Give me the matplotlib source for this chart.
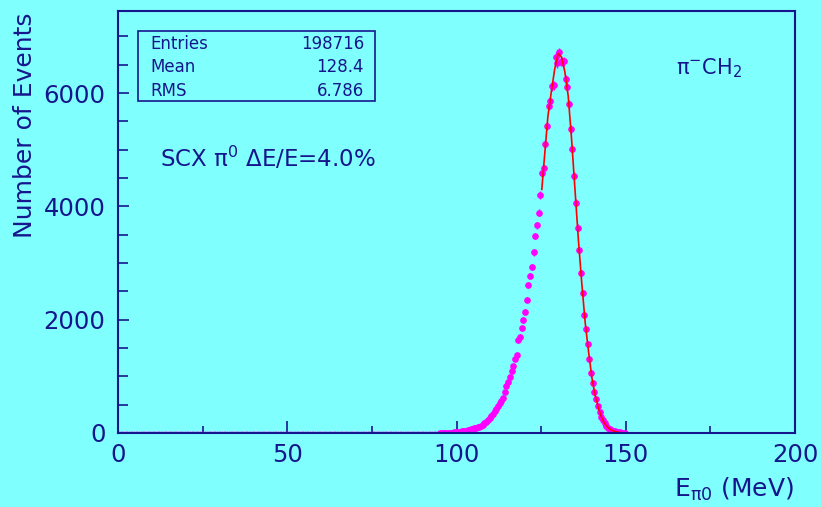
# Reconstructed E_pi0 spectrum for SCX pi- on CH2, drawn like the original ROOT canvas

import numpy as np
import matplotlib.pyplot as plt
from matplotlib.patches import Rectangle
from matplotlib.ticker import MultipleLocator

plt.rcParams['font.family'] = ['DejaVu Sans']
plt.rcParams['mathtext.fontset'] = 'dejavusans'
plt.rcParams['mathtext.default'] = 'regular'

BG = '#80ffff'
INK = '#16168c'

# histogram: 0.5 MeV bins, first filled bin centred at 95.25 MeV (bins below are empty)
first_bin = 95.25
bin_width = 0.5
n_empty = 190
counts = [1, 1, 2, 2, 3, 4, 5, 7, 9, 12,
          15, 19, 24, 30, 37, 44, 51, 57, 64, 72,
          80, 89, 100, 113, 130, 150, 171, 198, 230, 259,
          300, 340, 388, 420, 470, 535, 565, 615, 729, 829,
          900, 994, 1100, 1188, 1306, 1376, 1641, 1699, 1853, 1994,
          2141, 2353, 2618, 2771, 2935, 3189, 3476, 3670, 3888, 4200,
          4583, 4671, 5094, 5417, 5770, 5864, 6123, 6141, 6640, 6524,
          6718, 6552, 6560, 6564, 6241, 6111, 5800, 5359, 5011, 4535,
          4064, 3623, 3229, 2829, 2476, 2088, 1830, 1576, 1306, 1053,
          888, 718, 595, 476, 371, 277, 229, 171, 124, 94,
          71, 58, 44, 32, 22, 15, 10, 6, 4, 2]

# fitted curve (red line)
fit_e = [125.2, 126, 127, 128, 129, 130, 131, 132, 133, 134, 135, 136, 137, 138, 139,
         140, 141, 142, 143, 144, 145, 146, 147, 148, 149, 150, 152, 155, 160]
fit_n = [4300, 4880, 5590, 6020, 6420, 6700, 6640, 6380, 5950, 5185, 4300, 3420, 2650, 1960, 1440,
         975, 656, 423, 253, 148, 82, 45, 23, 11, 5, 2, 0.5, 0, 0]

stats = [("Entries", "198716"), ("Mean", "128.4"), ("RMS", "6.786")]

y_all = np.concatenate([np.zeros(n_empty), np.array(counts, dtype=float)])
x_all = bin_width / 2 + bin_width * np.arange(len(y_all))
empty = y_all == 0

W, H = 821, 507
fig = plt.figure(figsize=(W / 100, H / 100), dpi=100, facecolor=BG)
ax = fig.add_axes([118 / W, 1 - 433 / H, (795 - 118) / W, (433 - 11) / H])
ax.set_facecolor(BG)

# empty bins sit on the axis as tiny dots
ax.plot(x_all[empty], y_all[empty], 'o', color='#ff00ff', markersize=1.6, zorder=3)
ax.errorbar(x_all[~empty], y_all[~empty], yerr=np.sqrt(y_all[~empty]), fmt='o', color='#ff00ff',
            markersize=3.8, elinewidth=1.0, capsize=0, zorder=3)
ax.plot(fit_e, fit_n, color='#ff0000', lw=1.2, zorder=4)

ax.set_xlim(0, 200)
ax.set_ylim(0, 7450)
ax.xaxis.set_major_locator(MultipleLocator(50))
ax.xaxis.set_minor_locator(MultipleLocator(25))
ax.yaxis.set_major_locator(MultipleLocator(2000))
ax.yaxis.set_minor_locator(MultipleLocator(500))
ax.tick_params(which='both', direction='in', colors=INK, labelsize=17.5, width=1.2)
ax.tick_params(axis='x', which='major', length=9, pad=7)
ax.tick_params(axis='x', which='minor', length=5)
ax.tick_params(axis='y', which='major', length=8, pad=9)
ax.tick_params(axis='y', which='minor', length=7)
for s in ax.spines.values():
    s.set_color(INK)
    s.set_linewidth(1.5)
    s.set_zorder(5)

# axis titles, ROOT style (aligned to the ends)
fig.text(25 / W, 1 - 12 / H, "Number of Events", rotation=90, ha='center', va='top',
         fontsize=18, color=INK)
fig.text(794 / W, 1 - 489 / H, r"E$_{\pi 0}$ (MeV)", ha='right', va='center',
         fontsize=18, color=INK)

# stats box
fig.patches.append(Rectangle((138 / W, 1 - 101 / H), (375 - 138) / W, (101 - 31) / H,
                             transform=fig.transFigure, fill=False, ec=INK, lw=1.2))
for i, (name, val) in enumerate(stats):
    yy = 1 - (44 + 23.3 * i) / H
    fig.text(150 / W, yy, name, ha='left', va='center', fontsize=12, color=INK)
    fig.text(364 / W, yy, val, ha='right', va='center', fontsize=12, color=INK)

fig.text(160 / W, 1 - 158 / H, "SCX π$^{0}$ ΔE/E=4.0%", ha='left', va='center',
         fontsize=16.5, color=INK)
fig.text(676 / W, 1 - 68 / H, "π$^{-}$CH$_{2}$", ha='left', va='center',
         fontsize=15, color=INK)

fig.savefig("out.png", dpi=100, facecolor=BG)
